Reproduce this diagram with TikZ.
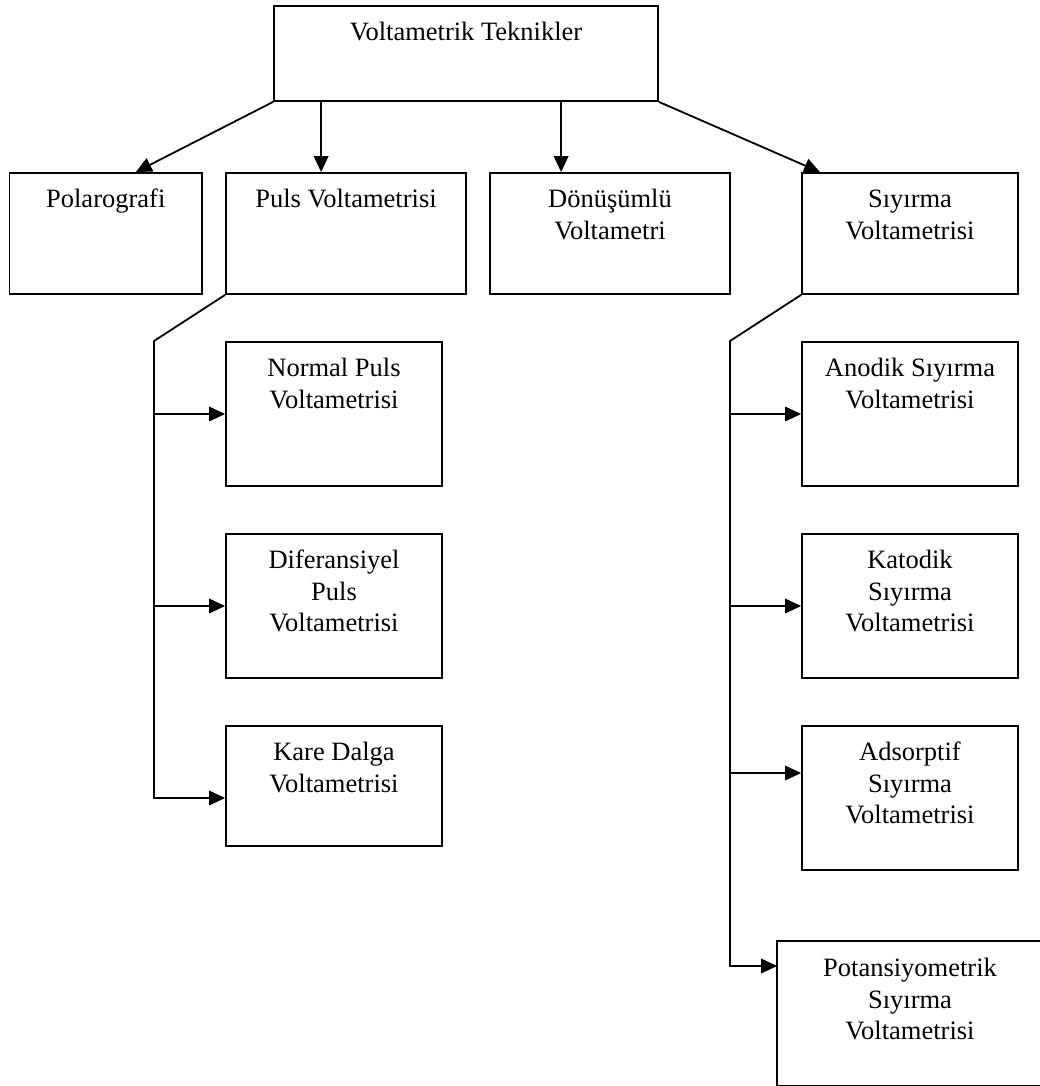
\documentclass[tikz,border=0pt]{standalone}
\usepackage{fontspec}
\setmainfont{Liberation Serif}
\usetikzlibrary{arrows.meta}
\newcommand{\bxt}[3]{\begin{minipage}[c][#2pt][t]{#1pt}\centering\rule{0pt}{34.5pt}#3\end{minipage}}
\tikzset{
  bxs/.style={draw, inner sep=0pt, line width=1.8pt, font=\fontsize{26.5}{31.5}\selectfont},
  ln/.style={line width=1.8pt},
  arr/.style={line width=1.8pt, -{Triangle[length=16pt,width=14.5pt]}}
}
\begin{document}
\begin{tikzpicture}[x=1pt,y=-1pt]
\useasboundingbox (0,0) rectangle (1040,1086);
% boxes
\node[bxs] (top) at (466,53.35) {\bxt{384}{95.3}{Voltametrik Teknikler}};
\node[bxs] (polar) at (105.75,233.5) {\bxt{192.5}{121}{Polarografi}};
\node[bxs] (puls) at (346,233.5) {\bxt{240}{121}{Puls Voltametrisi}};
\node[bxs] (donus) at (610,233.5) {\bxt{240}{121}{Dönüşümlü\\Voltametri}};
\node[bxs] (siy) at (910,233.5) {\bxt{216}{121}{Sıyırma\\Voltametrisi}};
\node[bxs] (normal) at (334,414) {\bxt{216}{144}{Normal Puls\\Voltametrisi}};
\node[bxs] (difer) at (334,606) {\bxt{216}{144}{Diferansiyel\\Puls\\Voltametrisi}};
\node[bxs] (kare) at (334,786) {\bxt{216}{120}{Kare Dalga\\Voltametrisi}};
\node[bxs] (anodik) at (910,414) {\bxt{216}{144}{Anodik Sıyırma\\Voltametrisi}};
\node[bxs] (katodik) at (910,606) {\bxt{216}{144}{Katodik\\Sıyırma\\Voltametrisi}};
\node[bxs] (adsorp) at (910,798) {\bxt{216}{144}{Adsorptif\\Sıyırma\\Voltametrisi}};
\node[bxs, draw=none] (potans) at (910,1013.5) {\bxt{264}{143}{Potansiyometrik\\Sıyırma\\Voltametrisi}};
\draw[ln] (potans.north east) -- (potans.north west) -- (potans.south west) -- (potans.south east);
% top connectors
\draw[arr] (top.south west) -- ([xshift=30pt]polar.north);
\draw[arr] ([xshift=48pt]top.south west) -- ([xshift=48pt]top.south west |- puls.north);
\draw[arr] ([xshift=288pt]top.south west) -- ([xshift=288pt]top.south west |- donus.north);
\draw[arr] (top.south east) -- ([xshift=-90pt]siy.north);
% left branch
\coordinate (lk) at (154,341);
\coordinate (lbot) at (154,798);
\draw[arr] (puls.south west) -- (lk) -- (lbot) -- (lbot -| kare.west);
\draw[arr] (lk |- normal.west) -- (normal.west);
\draw[arr] (lk |- difer.west) -- (difer.west);
% right branch
\coordinate (rk) at (730,341);
\coordinate (rbot) at (730,966);
\coordinate (ad) at ([yshift=25pt]adsorp.west);
\draw[arr] (siy.south west) -- (rk) -- (rbot) -- (rbot -| potans.west);
\draw[arr] (rk |- anodik.west) -- (anodik.west);
\draw[arr] (rk |- katodik.west) -- (katodik.west);
\draw[arr] (rk |- ad) -- (ad);
\end{tikzpicture}
\end{document}
